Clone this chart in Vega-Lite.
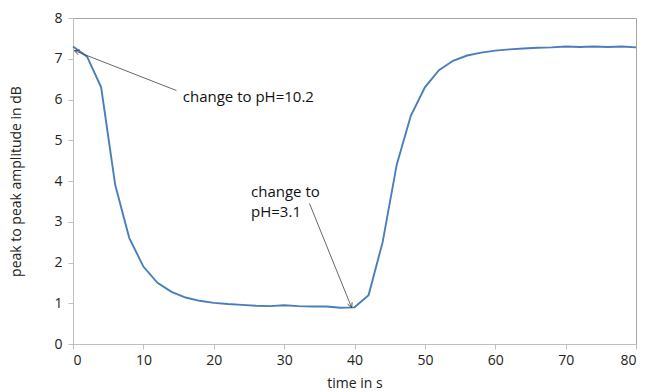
{
  "$schema": "https://vega.github.io/schema/vega-lite/v6.json",
  "autosize": "none",
  "width": 563,
  "height": 326,
  "padding": {"left": 73, "top": 18, "right": 10, "bottom": 48},
  "background": "white",
  "config": {
    "font": "Open Sans",
    "view": {"stroke": "#a6a6a6", "strokeWidth": 1},
    "axis": {
      "grid": false,
      "domainColor": "#bfbfbf",
      "tickColor": "#bfbfbf",
      "tickSize": 5,
      "labelFont": "Open Sans",
      "labelFontSize": 14,
      "labelColor": "#222222",
      "titleFont": "Open Sans",
      "titleFontSize": 14,
      "titleFontWeight": "normal",
      "titleColor": "#222222"
    }
  },
  "datasets": {
    "series": [
      {"t": 0, "amp": 7.3}, {"t": 2, "amp": 7.05}, {"t": 4, "amp": 6.3},
      {"t": 6, "amp": 3.9}, {"t": 8, "amp": 2.6}, {"t": 10, "amp": 1.9},
      {"t": 12, "amp": 1.5}, {"t": 14, "amp": 1.28}, {"t": 16, "amp": 1.14},
      {"t": 18, "amp": 1.06}, {"t": 20, "amp": 1.01}, {"t": 22, "amp": 0.98},
      {"t": 24, "amp": 0.96}, {"t": 26, "amp": 0.94}, {"t": 28, "amp": 0.93},
      {"t": 30, "amp": 0.95}, {"t": 32, "amp": 0.93}, {"t": 34, "amp": 0.92},
      {"t": 36, "amp": 0.92}, {"t": 38, "amp": 0.89}, {"t": 40, "amp": 0.9},
      {"t": 42, "amp": 1.2}, {"t": 44, "amp": 2.5}, {"t": 46, "amp": 4.4},
      {"t": 48, "amp": 5.6}, {"t": 50, "amp": 6.3}, {"t": 52, "amp": 6.72},
      {"t": 54, "amp": 6.95}, {"t": 56, "amp": 7.08}, {"t": 58, "amp": 7.15},
      {"t": 60, "amp": 7.2}, {"t": 62, "amp": 7.23}, {"t": 64, "amp": 7.25},
      {"t": 66, "amp": 7.27}, {"t": 68, "amp": 7.28}, {"t": 70, "amp": 7.3},
      {"t": 72, "amp": 7.29}, {"t": 74, "amp": 7.3}, {"t": 76, "amp": 7.29},
      {"t": 78, "amp": 7.3}, {"t": 80, "amp": 7.28}
    ],
    "arrows": [
      {"name": "base", "x": 14.7, "y": 6.22, "x2": 0.2, "y2": 7.2},
      {"name": "acid", "x": 33.6, "y": 3.45, "x2": 39.6, "y2": 0.89}
    ],
    "notes": [
      {"x": 15.6, "y": 6.06, "label": "change to pH=10.2"},
      {"x": 25.3, "y": 3.74, "label": "change to"},
      {"x": 25.3, "y": 3.25, "label": "pH=3.1"}
    ]
  },
  "layer": [
    {
      "data": {"name": "series"},
      "mark": {"type": "line", "color": "#4a7ebb", "strokeWidth": 1.9},
      "encoding": {
        "x": {
          "field": "t", "type": "quantitative", "title": "time in s",
          "scale": {"domain": [0, 80], "nice": false},
          "axis": {"values": [0, 10, 20, 30, 40, 50, 60, 70, 80], "labelPadding": 4, "titlePadding": 9}
        },
        "y": {
          "field": "amp", "type": "quantitative", "title": "peak to peak amplitude in dB",
          "scale": {"domain": [0, 8], "nice": false},
          "axis": {"values": [0, 1, 2, 3, 4, 5, 6, 7, 8], "labelPadding": 6, "titlePadding": 30}
        }
      }
    },
    {
      "mark": {"type": "rule", "color": "#000000", "strokeWidth": 1},
      "encoding": {"y": {"datum": 8}}
    },
    {
      "data": {"name": "arrows"},
      "mark": {"type": "rule", "color": "#404040", "strokeWidth": 0.8},
      "encoding": {
        "x": {"field": "x", "type": "quantitative"},
        "y": {"field": "y", "type": "quantitative"},
        "x2": {"field": "x2"},
        "y2": {"field": "y2"}
      }
    },
    {
      "data": {"name": "arrows"},
      "transform": [{"filter": "datum.name === 'base'"}],
      "mark": {"type": "point", "shape": "M-0.5,1L0,0L0.5,1", "filled": false, "size": 100, "angle": 291.5, "color": "#404040", "strokeWidth": 0.8, "opacity": 1},
      "encoding": {
        "x": {"field": "x2", "type": "quantitative"},
        "y": {"field": "y2", "type": "quantitative"}
      }
    },
    {
      "data": {"name": "arrows"},
      "transform": [{"filter": "datum.name === 'acid'"}],
      "mark": {"type": "point", "shape": "M-0.5,1L0,0L0.5,1", "filled": false, "size": 100, "angle": 158.2, "color": "#404040", "strokeWidth": 0.8, "opacity": 1},
      "encoding": {
        "x": {"field": "x2", "type": "quantitative"},
        "y": {"field": "y2", "type": "quantitative"}
      }
    },
    {
      "data": {"name": "notes"},
      "mark": {"type": "text", "align": "left", "baseline": "middle", "fontSize": 15, "color": "#111111", "font": "Open Sans"},
      "encoding": {
        "x": {"field": "x", "type": "quantitative"},
        "y": {"field": "y", "type": "quantitative"},
        "text": {"field": "label"}
      }
    }
  ]
}
